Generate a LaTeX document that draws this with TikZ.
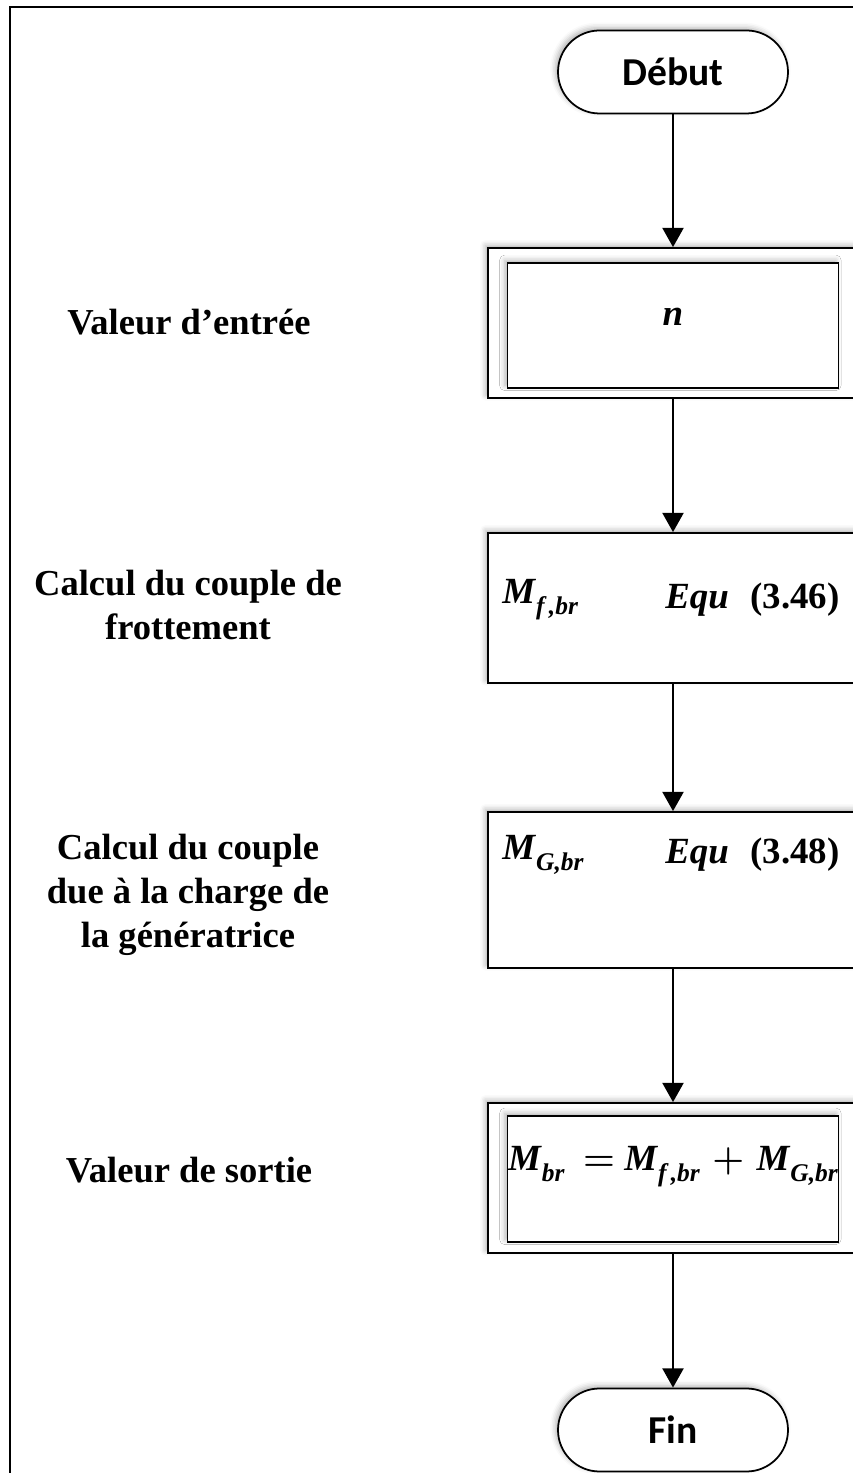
\documentclass[tikz,border=0pt]{standalone}
\usepackage{fontspec}
\setmainfont{Liberation Serif}
\newfontfamily\capsans{Carlito}
\usetikzlibrary{arrows.meta,shadows.blur}
% bold italic symbol with a subscript
\newcommand{\bsym}[2]{\textbf{\textit{#1}}\raisebox{-0.3em}{\fontsize{14.5}{14.5}\selectfont\textbf{\textit{#2}}}}

\begin{document}
\begin{tikzpicture}[
  font=\rmfamily,
  soft/.style={blur shadow={shadow xshift=-1.5pt, shadow yshift=1.5pt, shadow blur radius=3pt, shadow opacity=30}},
  term/.style={draw=black, line width=1pt, fill=white, soft, minimum width=4.6cm, minimum height=1.66cm,
    rounded corners=0.83cm, font=\capsans\bfseries\fontsize{22.5}{25}\selectfont},
  outerbox/.style={draw=black, line width=1pt, fill=white, soft, minimum width=7.4cm, minimum height=3cm},
  innerbox/.style={draw=black, line width=1pt, fill=white, soft, minimum width=6.62cm, minimum height=2.5cm},
  eq/.style={font=\bfseries\fontsize{21}{24}\selectfont, inner sep=0pt},
  steplabel/.style={font=\bfseries\fontsize{20.8}{25}\selectfont, align=center},
  arr/.style={line width=1.3pt, -{Triangle[length=11pt, width=12pt]}},
]

\useasboundingbox (0,0) rectangle (17.06,29.46);
% page frame, open to the right and bottom
\draw[line width=1.1pt] (0.2,-0.5) -- (0.2,29.32) -- (17.6,29.32);

% start and end
\node[term] (debut) at (13.46, 28.02) {Début};
\node[term] (fin) at (13.46, 0.86) {Fin};

% input value (double frame)
\node[outerbox] (entree) at (13.46, 23.0) {};
\node[innerbox] (entreein) at (13.46, 22.95) {};
\node[eq] (nval) at (13.46, 23.12) {\textit{n}};
\node[steplabel] (lbentree) at (3.78, 23.02) {Valeur d’entrée};

% friction torque
\node[outerbox] (frot) at (13.46, 17.3) {};
\node[eq, anchor=west] (mf) at (10.04, 17.46) {\bsym{M}{f\,,br}};
\node[eq, anchor=east] (eqf) at (16.8, 17.46) {\textit{Equ}\,\, (3.46)};
\node[steplabel] (lbfrot) at (3.76, 17.36) {Calcul du couple de\\frottement};

% generator load torque
\node[outerbox, minimum height=3.12cm] (gen) at (13.46, 11.66) {};
\node[eq, anchor=west] (mg) at (10.04, 12.36) {\bsym{M}{G,br}};
\node[eq, anchor=east] (eqg) at (16.8, 12.36) {\textit{Equ}\,\, (3.48)};
\node[steplabel] (lbgen) at (3.76, 11.56) {Calcul du couple\\due à la charge de\\la génératrice};

% output value (double frame)
\node[outerbox] (sortie) at (13.46, 5.9) {};
\node[innerbox, minimum height=2.52cm] (sortiein) at (13.46, 5.88) {};
\node[eq] (mbr) at (13.46, 6.12)
  {\bsym{M}{br}\ \ {\boldmath$=$}\ \bsym{M}{f\,,br}\,\,{\boldmath$+$}\,\,\bsym{M}{G,br}};
\node[steplabel] (lbsortie) at (3.78, 6.06) {Valeur de sortie};

% connectors
\draw[arr] (debut) -- (entree);
\draw[arr] (entree) -- (frot);
\draw[arr] (frot) -- (gen);
\draw[arr] (gen) -- (sortie);
\draw[arr] (sortie) -- (fin);

\end{tikzpicture}
\end{document}
